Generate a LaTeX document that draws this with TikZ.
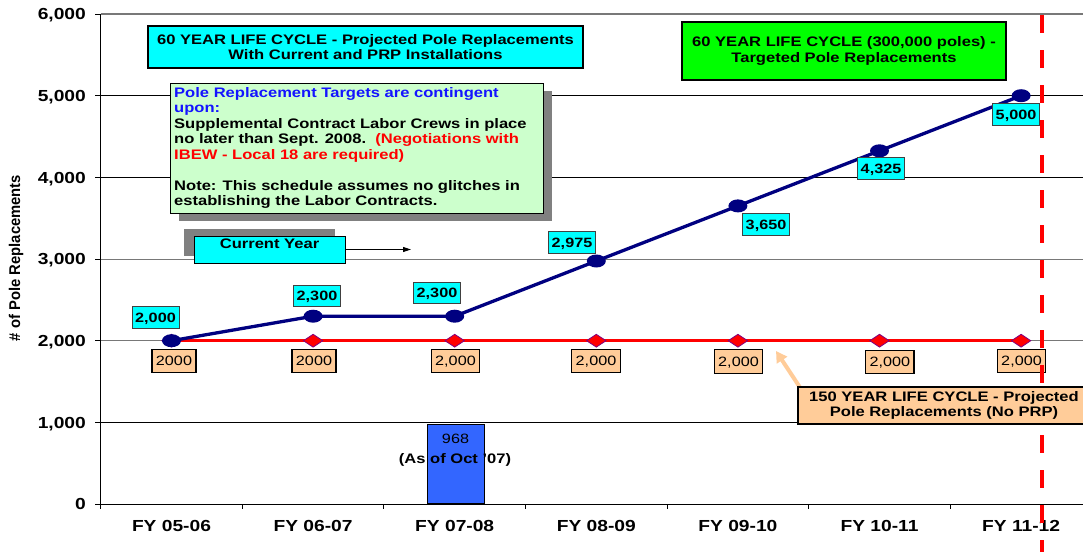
\documentclass[tikz,border=0pt]{standalone}
\usepackage{fontspec}
\setmainfont{Liberation Sans}[FakeStretch=1.2]
\newfontfamily\ylabfont{Liberation Sans}
\usetikzlibrary{arrows.meta,shapes.geometric,shadows}
\definecolor{cyanbox}{RGB}{0,255,255}
\definecolor{greenbox}{RGB}{0,255,0}
\definecolor{notegreen}{RGB}{204,255,204}
\definecolor{peach}{RGB}{255,204,153}
\definecolor{navyline}{RGB}{0,0,128}
\definecolor{barblue}{RGB}{51,102,255}
\definecolor{notered}{RGB}{255,0,0}
\definecolor{noteblue}{RGB}{20,20,255}
\definecolor{shadowgray}{RGB}{128,128,128}
\definecolor{diapurple}{RGB}{128,0,128}
\definecolor{gridgray}{RGB}{120,120,120}
\tikzset{
  boxtext/.style={font=\bfseries\fontsize{13.8}{15.5}\selectfont},
  titlebox/.style={draw=black, line width=1.2pt, align=center, inner sep=0pt, boxtext},
  notetext/.style={anchor=base west, inner sep=0pt, font=\bfseries\fontsize{13.8}{15.5}\selectfont},
  cylabel/.style={draw=black!75, fill=cyanbox, line width=0.8pt, minimum height=21.5pt, inner xsep=3.3pt, inner ysep=0pt, text height=9.7pt, text depth=0pt, font=\bfseries\fontsize{13.5}{15}\selectfont},
  pclabel/.style={draw=black, fill=peach, line width=1.3pt, minimum height=23.5pt, inner xsep=4pt, inner ysep=0pt, text height=9.7pt, text depth=0pt, font=\fontsize{13.5}{15}\selectfont},
  ytick/.style={anchor=east, inner sep=0pt, text height=11.5pt, text depth=0pt, font=\bfseries\fontsize{16}{18}\selectfont},
  xtick/.style={anchor=base, inner sep=0pt, font=\bfseries\fontsize{16}{18}\selectfont},
  bmark/.style={ellipse, fill=navyline, minimum width=19pt, minimum height=13pt, inner sep=0pt},
  rmark/.style={fill=red, draw=diapurple, line width=0.8pt, line join=miter},
  blueline/.style={navyline, line width=3.3pt},
  redline/.style={red, line width=2.8pt},
}
\begin{document}
\begin{tikzpicture}[x=1pt,y=-1pt]
\useasboundingbox (0,0) rectangle (1083,552);
\fill[white] (0,0) rectangle (1083,552);

% gridlines and axis ticks
\foreach \v/\c/\w in {422.3/black/0.7, 340.7/gridgray/0.9, 259/gridgray/0.9, 177.3/black/0.7, 95.7/black/0.7, 14/gridgray/1.1} {
  \draw[\c, line width=\w pt] (100.5,\v) -- (1083,\v);
  \draw[black, line width=0.7pt] (95,\v) -- (100.5,\v);
}
\draw[black, line width=0.9pt] (100.5,14) -- (100.5,504) -- (1083,504);
\draw[black, line width=0.7pt] (95,504) -- (100.5,504);
\foreach \i in {0,...,7} \draw[black, line width=0.7pt] ({100.5+141.6*\i},504) -- ++(0,5);

% y tick labels
\node[ytick] (yl0) at (86,504) {0};
\node[ytick] (yl1) at (86,422.3) {1,000};
\node[ytick] (yl2) at (86,340.7) {2,000};
\node[ytick] (yl3) at (86,259) {3,000};
\node[ytick] (yl4) at (86,177.3) {4,000};
\node[ytick] (yl5) at (86,95.7) {5,000};
\node[ytick] (yl6) at (86,14) {6,000};

% x labels
\foreach \t [count=\k] in {FY 05-06, FY 06-07, FY 07-08, FY 08-09, FY 09-10, FY 10-11, FY 11-12}
  \node[xtick] (xl\k) at ({171.5+141.6*(\k-1)},531.5) {\t};

% y axis title
\node[font=\ylabfont\bfseries\fontsize{14.8}{16}\selectfont, xscale=1.05, rotate=90, inner sep=0pt] (ylab) at (16,258) {\# of Pole Replacements};

% title boxes
\node[titlebox, fill=cyanbox, minimum width=435pt, minimum height=42pt] (title) at (365.5,47)
  {60 YEAR LIFE CYCLE - Projected Pole Replacements\\With Current and PRP Installations};
\node[titlebox, fill=greenbox, minimum width=324pt, minimum height=58pt] (target) at (844,51)
  {60 YEAR LIFE CYCLE (300,000 poles) -\\Targeted Pole Replacements};

% note box
\node[draw=black, line width=1pt, fill=notegreen, minimum width=373pt, minimum height=130pt, inner sep=0pt,
  drop shadow={shadow xshift=9pt, shadow yshift=-8pt, fill=shadowgray, opacity=1}] (note) at (356.5,148) {};
\node[notetext, text=noteblue] (n1) at (174,97) {Pole Replacement Targets are contingent};
\node[notetext, text=noteblue] (n2) at (174,112.5) {upon:};
\node[notetext] (n3) at (174,128) {Supplemental Contract Labor Crews in place};
\node[notetext] (n4) at (174,143.5) {no later than Sept. 2008.~~\textcolor{notered}{(Negotiations with}};
\node[notetext, text=notered] (n5) at (174,159) {IBEW - Local 18 are required)};
\node[notetext] (n6) at (174,190) {Note: This schedule assumes no glitches in};
\node[notetext] (n7) at (174,205.5) {establishing the Labor Contracts.};

% current year
\node[draw=black, line width=1pt, fill=cyanbox, minimum width=151pt, minimum height=27pt, inner sep=0pt,
  text height=9.9pt, text depth=12.9pt, boxtext,
  drop shadow={shadow xshift=-10pt, shadow yshift=7pt, fill=shadowgray, opacity=1}] (cy) at (269.5,249.5) {Current Year};
\coordinate (cyend) at (411,249.5);
\draw[black, line width=0.8pt, -{Triangle[length=8pt,width=5pt]}] (cy.east) -- (cyend);

% bar
\node[draw=black, line width=0.9pt, fill=barblue, minimum width=57pt, minimum height=79pt, inner sep=0pt, anchor=south] (bar) at (455.5,504) {};
\node[anchor=base, inner sep=0pt, font=\fontsize{13.5}{15}\selectfont] (v968) at (455.5,443.7) {968};
\node[anchor=base, inner sep=0pt, font=\bfseries\fontsize{13.8}{15}\selectfont] (asof) at (455,463.5) {(As of Oct '07)};

% data coordinates
\coordinate (r0) at (171.5,340.7);
\coordinate (r1) at (313.1,340.7);
\coordinate (r2) at (454.7,340.7);
\coordinate (r3) at (596.3,340.7);
\coordinate (r4) at (737.9,340.7);
\coordinate (r5) at (879.5,340.7);
\coordinate (r6) at (1021.1,340.7);
\coordinate (b0) at (171.5,340.7);
\coordinate (b1) at (313.1,316.2);
\coordinate (b2) at (454.7,316.2);
\coordinate (b3) at (596.3,261.0);
\coordinate (b4) at (737.9,205.9);
\coordinate (b5) at (879.5,150.8);
\coordinate (b6) at (1021.1,95.7);

% 150-year series
\draw[redline] (r0) -- (r1) -- (r2) -- (r3) -- (r4) -- (r5) -- (r6);
\foreach \i in {0,...,6}
  \draw[rmark] (r\i) ++(-9.7,0) -- ++(9.7,-6.4) -- ++(9.7,6.4) -- ++(-9.7,6.4) -- cycle;

% 60-year series
\draw[blueline, line join=round] (b0) -- (b1) -- (b2) -- (b3) -- (b4) -- (b5) -- (b6);
\foreach \i in {0,...,6} \node[bmark] (bm\i) at (b\i) {};

% peach value labels
\node[pclabel] (p0) at (174,361) {2000};
\node[pclabel] (p1) at (314,361) {2000};
\node[pclabel] (p2) at (455.5,361) {2,000};
\node[pclabel] (p3) at (596,361) {2,000};
\node[pclabel] (p4) at (738.5,361.5) {2,000};
\node[pclabel] (p5) at (889.8,362) {2,000};
\node[pclabel] (p6) at (1021.5,361) {2,000};

% cyan value labels
\node[cylabel] (c0) at (155.5,317.5) {2,000};
\node[cylabel] (c1) at (317,296) {2,300};
\node[cylabel] (c2) at (437,293) {2,300};
\node[cylabel] (c3) at (572,242.5) {2,975};
\node[cylabel] (c4) at (766,224.5) {3,650};
\node[cylabel] (c5) at (881,168.5) {4,325};
\node[cylabel] (c6) at (1016,114.5) {5,000};

% current year dashed line
\coordinate (dtop) at (1042,15);
\coordinate (dbot) at (1042,552);
\draw[red, line width=4.7pt, dash pattern=on 18pt off 17pt] (dtop) -- (dbot);

% 150 year callout
\coordinate (ptip) at (776,351);
\coordinate (pstart) at (801,389);
\draw[peach, line width=4pt, -{Triangle[length=11pt,width=12pt]}] (pstart) -- (ptip);
\node[titlebox, fill=peach, minimum width=292pt, minimum height=37pt] (nopro) at (944,405.5)
  {150 YEAR LIFE CYCLE - Projected\\Pole Replacements (No PRP)};
\end{tikzpicture}
\end{document}
